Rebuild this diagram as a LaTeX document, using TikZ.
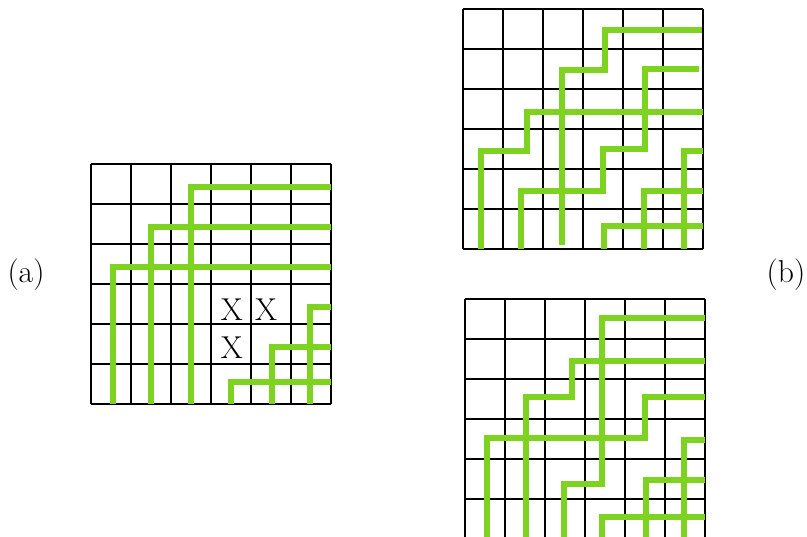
\documentclass[tikz,border=0pt]{standalone}
\usepackage{fontspec}
\usetikzlibrary{arrows.meta,calc,positioning}
\definecolor{wiregreen}{RGB}{126,211,33}

\begin{document}
\begin{tikzpicture}[x=1cm,y=1cm,font=\fontsize{22.5}{27}\selectfont,
  gridline/.style={black,line width=1.1pt},
  wire/.style={wiregreen,line width=4.2pt}]
 \useasboundingbox (0,0) rectangle (20.175,13.425);
 % (a)
 \begin{scope}[shift={(2.275,3.325)}]
  \draw[gridline,step=1] (0,0) grid (6,6);
  \foreach \x/\y in {0.55/3.42,1.5/4.42,2.5/5.43,3.5/0.55,4.52/1.42,5.48/2.43}{
   \draw[wire] (\x,0) |- (6,\y);
  }
  \node (xa) at (3.52,2.35) {X};
  \node (xb) at (4.38,2.35) {X};
  \node (xc) at (3.52,1.4) {X};
 \end{scope}
 % (b) top
 \begin{scope}[shift={(11.575,7.2)}]
  \draw[gridline,step=1] (0,0) grid (6,6);
  \draw[wire] (0.45,0) |- (1.6,2.44) |- (6,3.42);
  \draw[wire] (1.45,0) |- (3.5,1.44) |- (4.55,2.5) |- (5.9,4.5);
  \draw[wire] (2.48,0.1) |- (3.55,4.48) |- (5.97,5.47);
  \foreach \x/\y in {3.52/0.57,4.52/1.44,5.53/2.44}{
   \draw[wire] (\x,0) |- (6,\y);
  }
 \end{scope}
 % (b) bottom
 \begin{scope}[shift={(11.625,-0.05)}]
  \draw[gridline,step=1] (0,0) grid (6,6);
  \draw[wire] (0.54,0) |- (4.5,2.53) |- (6,3.56);
  \draw[wire] (1.52,0) |- (2.67,3.56) |- (6,4.45);
  \draw[wire] (2.48,0) |- (3.42,1.38) |- (6,5.52);
  \foreach \x/\y in {3.42/0.56,4.52/1.48,5.48/2.48}{
   \draw[wire] (\x,0) |- (6,\y);
  }
 \end{scope}
 \node (lblA) at (0.65,6.55) {(a)};
 \node (lblB) at (19.65,6.55) {(b)};
\end{tikzpicture}
\end{document}
